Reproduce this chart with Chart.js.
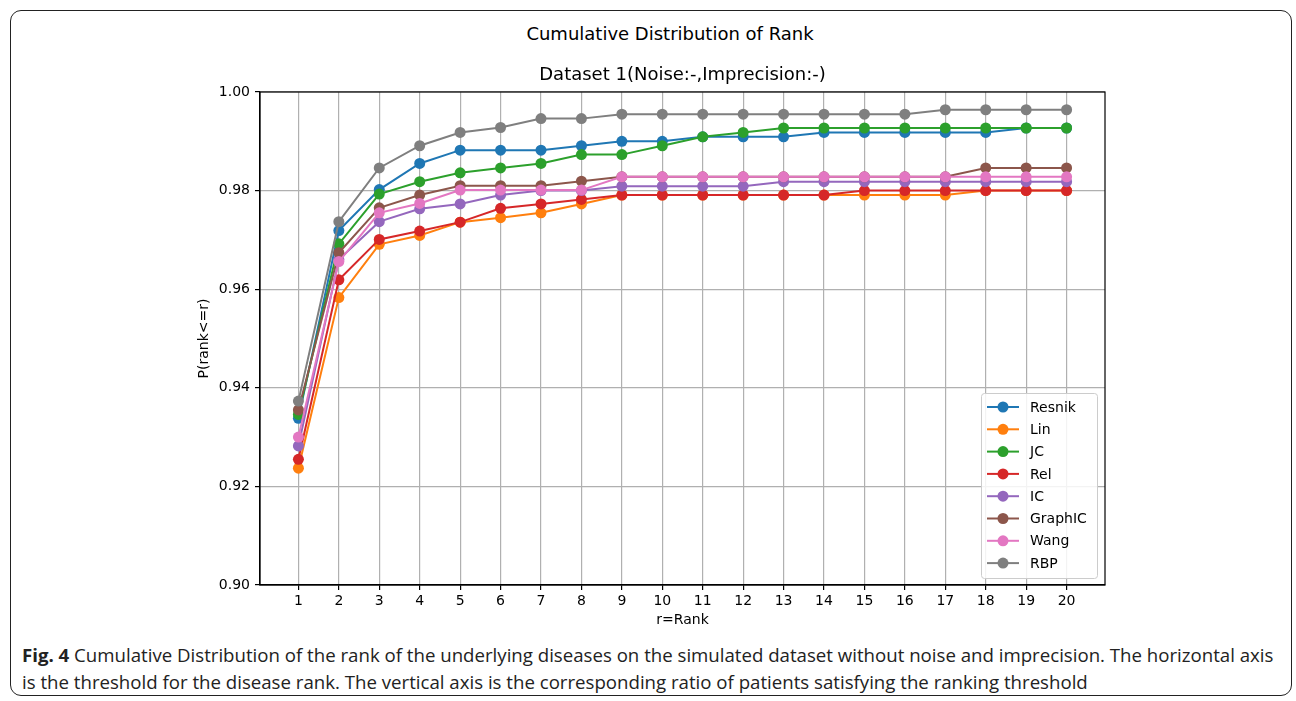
<!DOCTYPE html>
<html>
<head>
<meta charset="utf-8">
<script src="https://cdn.jsdelivr.net/npm/chart.js@4.4.1/dist/chart.umd.min.js"></script>
<style>
  body { margin: 0; background: #fff; width: 1296px; height: 701px; overflow: hidden; position: relative; }
  #frame { position: absolute; left: 10px; top: 10px; width: 1282px; height: 686px;
           border: 1.5px solid #222; border-radius: 11px; box-sizing: border-box; }
  #suptitle { position: absolute; top: 23px; left: 0; width: 1340px; text-align: center;
              font-family: "DejaVu Sans"; font-size: 18px; color: #000; }
  #wrap { position: absolute; left: 0; top: 0; width: 1296px; height: 640px; }
  #caption { position: absolute; left: 22px; top: 641px; width: 1270px; white-space: nowrap;
             font-family: "Open Sans"; font-size: 18.65px; line-height: 27px; color: #222; }
</style>
</head>
<body>
<div id="frame"></div>
<div id="suptitle">Cumulative Distribution of Rank</div>
<div id="wrap"><canvas id="cdf" width="1296" height="640"></canvas></div>
<div id="caption"><b>Fig. 4</b> Cumulative Distribution of the rank of the underlying diseases on the simulated dataset without noise and imprecision. The horizontal axis<br>is the threshold for the disease rank. The vertical axis is the corresponding ratio of patients satisfying the ranking threshold</div>
<script>
// rank thresholds on the x axis
var ranks = [1, 2, 3, 4, 5, 6, 7, 8, 9, 10, 11, 12, 13, 14, 15, 16, 17, 18, 19, 20];

// P(rank<=r) per method
var resnik  = [0.9338, 0.9719, 0.9802, 0.9855, 0.9882, 0.9882, 0.9882, 0.9891, 0.9900, 0.9900, 0.9909, 0.9909, 0.9909, 0.9918, 0.9918, 0.9918, 0.9918, 0.9918, 0.9927, 0.9927];
var lin     = [0.9237, 0.9583, 0.9691, 0.9709, 0.9736, 0.9745, 0.9755, 0.9773, 0.9791, 0.9791, 0.9791, 0.9791, 0.9791, 0.9791, 0.9791, 0.9791, 0.9791, 0.9800, 0.9800, 0.9800];
var jc      = [0.9346, 0.9692, 0.9793, 0.9818, 0.9836, 0.9846, 0.9855, 0.9873, 0.9873, 0.9891, 0.9909, 0.9918, 0.9927, 0.9927, 0.9927, 0.9927, 0.9927, 0.9927, 0.9927, 0.9927];
var rel     = [0.9255, 0.9619, 0.9701, 0.9718, 0.9736, 0.9764, 0.9773, 0.9782, 0.9791, 0.9791, 0.9791, 0.9791, 0.9791, 0.9791, 0.9800, 0.9800, 0.9800, 0.9800, 0.9800, 0.9800];
var ic      = [0.9282, 0.9660, 0.9737, 0.9763, 0.9773, 0.9791, 0.9800, 0.9800, 0.9809, 0.9809, 0.9809, 0.9809, 0.9818, 0.9818, 0.9818, 0.9818, 0.9818, 0.9818, 0.9818, 0.9818];
var graphic = [0.9355, 0.9674, 0.9765, 0.9791, 0.9810, 0.9810, 0.9810, 0.9819, 0.9828, 0.9828, 0.9828, 0.9828, 0.9828, 0.9828, 0.9828, 0.9828, 0.9828, 0.9846, 0.9846, 0.9846];
var wang    = [0.9300, 0.9656, 0.9755, 0.9774, 0.9801, 0.9801, 0.9801, 0.9801, 0.9828, 0.9828, 0.9828, 0.9828, 0.9828, 0.9828, 0.9828, 0.9828, 0.9828, 0.9828, 0.9828, 0.9828];
var rbp     = [0.9373, 0.9737, 0.9846, 0.9891, 0.9918, 0.9928, 0.9946, 0.9946, 0.9955, 0.9955, 0.9955, 0.9955, 0.9955, 0.9955, 0.9955, 0.9955, 0.9964, 0.9964, 0.9964, 0.9964];

var methods = ["Resnik", "Lin", "JC", "Rel", "IC", "GraphIC", "Wang", "RBP"];
var series = [resnik, lin, jc, rel, ic, graphic, wang, rbp];
var colors = ["#1f77b4", "#ff7f0e", "#2ca02c", "#d62728", "#9467bd", "#8c564b", "#e377c2", "#7f7f7f"];

var yTicks = [0.90, 0.92, 0.94, 0.96, 0.98, 1.00];

// spines on all four sides + matplotlib style legend in lower right
var mplFrame = {
    id: 'mplFrame',
    afterDraw: function (chart) {
        var ctx = chart.ctx, a = chart.chartArea;
        ctx.save();
        ctx.strokeStyle = '#000';
        ctx.lineWidth = 1.2;
        ctx.strokeRect(a.left, a.top, a.right - a.left, a.bottom - a.top);

        // legend box
        var w = 116, rowH = 22.3, h = 185;
        var x0 = a.right - 8 - w, y0 = a.bottom - 7 - h;
        ctx.fillStyle = 'rgba(255,255,255,0.85)';
        ctx.strokeStyle = '#cccccc';
        ctx.lineWidth = 1;
        ctx.beginPath();
        ctx.roundRect(x0 + 0.5, y0 + 0.5, w, h, 3);
        ctx.fill();
        ctx.stroke();
        ctx.font = '14px "DejaVu Sans"';
        ctx.textBaseline = 'middle';
        chart.data.datasets.forEach(function (ds, i) {
            var cy = y0 + 14 + i * rowH;
            ctx.strokeStyle = ds.borderColor;
            ctx.lineWidth = 2;
            ctx.beginPath();
            ctx.moveTo(x0 + 6, cy);
            ctx.lineTo(x0 + 38, cy);
            ctx.stroke();
            ctx.fillStyle = ds.borderColor;
            ctx.beginPath();
            ctx.arc(x0 + 22, cy, 5.5, 0, Math.PI * 2);
            ctx.fill();
            ctx.fillStyle = '#000';
            ctx.fillText(ds.label, x0 + 49, cy + 1);
        });
        ctx.restore();
    }
};

var ctx = document.getElementById("cdf").getContext("2d");
var chart = new Chart(ctx, {
    type: 'line',
    data: {
        datasets: methods.map(function (m, i) {
            return {
                label: m,
                data: ranks.map(function (r, j) { return {x: r, y: series[i][j]}; }),
                borderColor: colors[i],
                backgroundColor: colors[i],
                borderWidth: 2,
                pointRadius: 5.5,
                pointHoverRadius: 5.5,
                pointBorderWidth: 0,
                tension: 0,
                order: methods.length - i
            };
        })
    },
    options: {
        responsive: false,
        animation: false,
        devicePixelRatio: 1,
        layout: {
            padding: {left: 190, right: 191, top: 59, bottom: 7}
        },
        scales: {
            x: {
                type: 'linear',
                min: 0.05,
                max: 20.95,
                afterBuildTicks: function (s) {
                    s.ticks = ranks.map(function (v) { return {value: v}; });
                },
                afterFit: function (s) { s.height = 48; },
                ticks: {
                    color: '#000',
                    font: {family: 'DejaVu Sans', size: 14},
                    padding: 3,
                    maxRotation: 0,
                    autoSkip: false,
                    callback: function (v) { return v; }
                },
                grid: {color: '#b0b0b0', lineWidth: 1.2, tickColor: '#000', tickLength: 5},
                border: {color: '#000', width: 1.2},
                title: {
                    display: true,
                    text: 'r=Rank',
                    color: '#000',
                    font: {family: 'DejaVu Sans', size: 14},
                    padding: {top: 2, bottom: 4}
                }
            },
            y: {
                min: 0.9,
                max: 1.0,
                afterBuildTicks: function (s) {
                    s.ticks = yTicks.map(function (v) { return {value: v}; });
                },
                afterFit: function (s) { s.width = 70; },
                ticks: {
                    color: '#000',
                    font: {family: 'DejaVu Sans', size: 14},
                    padding: 5,
                    callback: function (v) { return v.toFixed(2); }
                },
                grid: {color: '#b0b0b0', lineWidth: 1.2, tickColor: '#000', tickLength: 5},
                border: {color: '#000', width: 1.2},
                title: {
                    display: true,
                    text: 'P(rank<=r)',
                    color: '#000',
                    font: {family: 'DejaVu Sans', size: 14},
                    padding: {top: 6, bottom: 4}
                }
            }
        },
        plugins: {
            legend: {display: false},
            tooltip: {enabled: false},
            title: {
                display: true,
                fullSize: false,
                text: 'Dataset 1(Noise:-,Imprecision:-)',
                color: '#000',
                font: {family: 'DejaVu Sans', size: 18, weight: 'normal'},
                padding: {top: 6, bottom: 5.4}
            }
        }
    },
    plugins: [mplFrame]
});
</script>
</body>
</html>
